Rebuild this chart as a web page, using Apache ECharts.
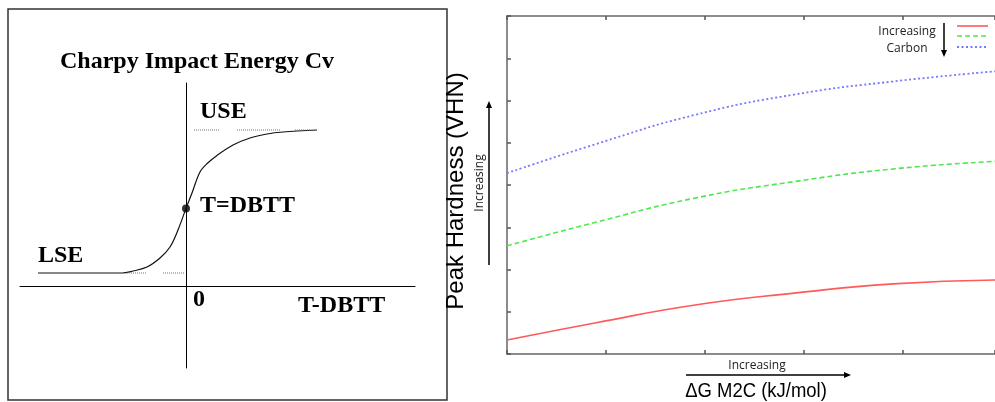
<!DOCTYPE html>
<html>
<head>
<meta charset="utf-8">
<title>Charpy / Peak Hardness</title>
<script src="https://cdn.jsdelivr.net/npm/echarts@6/dist/echarts.min.js"></script>
<style>
  html, body { margin: 0; padding: 0; background: #fff; }
  #main { width: 995px; height: 402px; }
</style>
</head>
<body>
<div id="main"></div>
<script type="text/javascript">
// left panel: schematic Charpy curve (T - DBTT vs Cv)
var cvT = [-3.7, -1.6, -1.325, -0.975, -0.65, -0.4, -0.2, 0, 0.15, 0.35, 0.55, 0.775, 1.175, 1.6, 2.025, 2.425, 3.275];
var cvE = [0.325, 0.325, 0.375, 0.475, 0.70, 0.975, 1.40, 1.94, 2.325, 2.85, 3.08, 3.265, 3.525, 3.70, 3.80, 3.85, 3.90];
var dbttPoint = [0, 1.94];
var useLevel = 3.9;
var lseLevel = 0.325;
var useDots = [[0.2, 0.825], [1.275, 2.35], [2.725, 3.1]];
var lseDots = [[-1.475, -1.0], [-0.575, -0.025]];

// right panel: peak hardness vs dG M2C (plot is cut at the right edge)
var dgX = [0, 0.9, 1.9, 2.9, 3.9, 4.93];
var hardLowC = [0.33, 0.74, 1.16, 1.44, 1.66, 1.75];
var hardMidC = [2.56, 3.12, 3.69, 4.08, 4.38, 4.56];
var hardHighC = [4.28, 4.97, 5.66, 6.14, 6.45, 6.69];

var lowColor = '#ff5a5a', midColor = '#4ee84e', highColor = '#7878ff';

function zip(a, b) {
  return a.map(function (v, i) { return [v, b[i]]; });
}

var myChart = echarts.init(document.getElementById('main'));

var serif = '"Liberation Serif", "Times New Roman", serif';
var sans = '"Liberation Sans", Arial, sans-serif';
var light = '"Open Sans", Lato, sans-serif';

var series = [
  {
    name: 'Cv', type: 'line', xAxisIndex: 0, yAxisIndex: 0,
    data: zip(cvT, cvE), smooth: 0.35, symbol: 'none', silent: true,
    lineStyle: { color: '#111', width: 1.2 }
  },
  {
    name: 'DBTT', type: 'scatter', xAxisIndex: 0, yAxisIndex: 0,
    data: [dbttPoint], symbolSize: 8, itemStyle: { color: '#000' }, silent: true
  }
];
useDots.forEach(function (s) {
  series.push({
    type: 'line', xAxisIndex: 0, yAxisIndex: 0, symbol: 'none', silent: true,
    data: [[s[0], useLevel], [s[1], useLevel]],
    lineStyle: { color: '#777', width: 1, type: [1, 1] }
  });
});
lseDots.forEach(function (s) {
  series.push({
    type: 'line', xAxisIndex: 0, yAxisIndex: 0, symbol: 'none', silent: true,
    data: [[s[0], lseLevel], [s[1], lseLevel]],
    lineStyle: { color: '#777', width: 1, type: [1, 1] }
  });
});
series.push(
  {
    name: 'C1', type: 'line', xAxisIndex: 1, yAxisIndex: 1,
    data: zip(dgX, hardLowC), smooth: true, symbol: 'none', silent: true,
    lineStyle: { color: lowColor, width: 1.6, type: 'solid' }
  },
  {
    name: 'C2', type: 'line', xAxisIndex: 1, yAxisIndex: 1,
    data: zip(dgX, hardMidC), smooth: true, symbol: 'none', silent: true,
    lineStyle: { color: midColor, width: 1.6, type: [5, 3] }
  },
  {
    name: 'C3', type: 'line', xAxisIndex: 1, yAxisIndex: 1,
    data: zip(dgX, hardHighC), smooth: true, symbol: 'none', silent: true,
    lineStyle: { color: highColor, width: 1.8, type: [2, 2.5] }
  }
);

var frameAxis = {
  axisLine: { show: true, lineStyle: { color: '#8c8c8c', width: 2 } },
  axisTick: { show: true, inside: true, length: 4, lineStyle: { color: '#555', width: 1.5 } },
  axisLabel: { show: false },
  splitLine: { show: false }
};

function arrowHead(x, y, dir) {
  var p;
  if (dir === 'up') p = [[x, y], [x - 3, y + 7], [x + 3, y + 7]];
  else if (dir === 'down') p = [[x, y], [x - 3, y - 7], [x + 3, y - 7]];
  else p = [[x, y], [x - 7, y - 3], [x - 7, y + 3]];
  return { type: 'polygon', shape: { points: p }, style: { fill: '#000' } };
}

function legendLine(y, color, dash, width) {
  return { type: 'line', shape: { x1: 957, y1: y, x2: 988, y2: y },
    style: { stroke: color, lineWidth: width, lineDash: dash } };
}

var option = {
  animation: false,
  backgroundColor: '#fff',
  grid: [
    { left: 20, right: 580, top: 83, bottom: 34 },
    { left: 507, right: 0, top: 16, bottom: 48 }
  ],
  xAxis: [
    {
      type: 'value', gridIndex: 0, min: -4.15, max: 5.725,
      axisLine: { onZero: true, lineStyle: { color: '#000', width: 1 } },
      axisTick: { show: false }, axisLabel: { show: false }, splitLine: { show: false }
    },
    Object.assign({ type: 'value', gridIndex: 1, min: 0, max: 4.93, interval: 1, position: 'bottom' }, frameAxis),
    Object.assign({ type: 'value', gridIndex: 1, min: 0, max: 4.93, interval: 1, position: 'top' }, frameAxis)
  ],
  yAxis: [
    {
      type: 'value', gridIndex: 0, min: -2.05, max: 5.075,
      axisLine: { onZero: true, lineStyle: { color: '#000', width: 1 } },
      axisTick: { show: false }, axisLabel: { show: false }, splitLine: { show: false }
    },
    Object.assign({ type: 'value', gridIndex: 1, min: 0, max: 8, interval: 1, position: 'left' }, frameAxis)
  ],
  graphic: [
    { type: 'rect', shape: { x: 8, y: 9, width: 439, height: 391 },
      style: { fill: null, stroke: '#333', lineWidth: 1.5 }, silent: true },
    { type: 'text', x: 197, y: 62, style: { text: 'Charpy Impact Energy Cv', font: 'bold 24px ' + serif, fill: '#000', align: 'center', verticalAlign: 'middle' } },
    { type: 'text', x: 200, y: 112, style: { text: 'USE', font: 'bold 24px ' + serif, fill: '#000', align: 'left', verticalAlign: 'middle' } },
    { type: 'text', x: 200, y: 206, style: { text: 'T=DBTT', font: 'bold 24px ' + serif, fill: '#000', align: 'left', verticalAlign: 'middle' } },
    { type: 'text', x: 38, y: 256, style: { text: 'LSE', font: 'bold 24px ' + serif, fill: '#000', align: 'left', verticalAlign: 'middle' } },
    { type: 'text', x: 193, y: 300, style: { text: '0', font: 'bold 24px ' + serif, fill: '#000', align: 'left', verticalAlign: 'middle' } },
    { type: 'text', x: 298, y: 306, style: { text: 'T-DBTT', font: 'bold 24px ' + serif, fill: '#000', align: 'left', verticalAlign: 'middle' } },

    { type: 'text', x: 456, y: 191, rotation: Math.PI / 2,
      style: { text: 'Peak Hardness (VHN)', font: '24px ' + sans, fill: '#000', align: 'center', verticalAlign: 'middle' } },
    { type: 'text', x: 480, y: 183, rotation: Math.PI / 2,
      style: { text: 'Increasing', font: '12px ' + light, fill: '#222', align: 'center', verticalAlign: 'middle' } },
    { type: 'line', shape: { x1: 489, y1: 265, x2: 489, y2: 106 }, style: { stroke: '#000', lineWidth: 1.5 } },
    arrowHead(489, 101, 'up'),

    { type: 'text', x: 757, y: 366, style: { text: 'Increasing', font: '12px ' + light, fill: '#222', align: 'center', verticalAlign: 'middle' } },
    { type: 'line', shape: { x1: 686, y1: 375, x2: 846, y2: 375 }, style: { stroke: '#000', lineWidth: 1.5 } },
    arrowHead(851, 375, 'right'),
    { type: 'text', x: 756, y: 391, scaleX: 0.88,
      style: { text: '\u0394G M2C (kJ/mol)', font: '21px ' + sans, fill: '#000', align: 'center', verticalAlign: 'middle' } },

    { type: 'text', x: 907, y: 32, style: { text: 'Increasing', font: '12px ' + light, fill: '#222', align: 'center', verticalAlign: 'middle' } },
    { type: 'text', x: 907, y: 49, style: { text: 'Carbon', font: '12px ' + light, fill: '#222', align: 'center', verticalAlign: 'middle' } },
    { type: 'line', shape: { x1: 944, y1: 23, x2: 944, y2: 52 }, style: { stroke: '#000', lineWidth: 1.5 } },
    arrowHead(944, 57, 'down'),
    legendLine(26, lowColor, null, 1.6),
    legendLine(36, midColor, [5, 3], 1.6),
    legendLine(47, highColor, [2, 2.5], 1.8)
  ],
  series: series
};

myChart.setOption(option);
</script>
</body>
</html>
